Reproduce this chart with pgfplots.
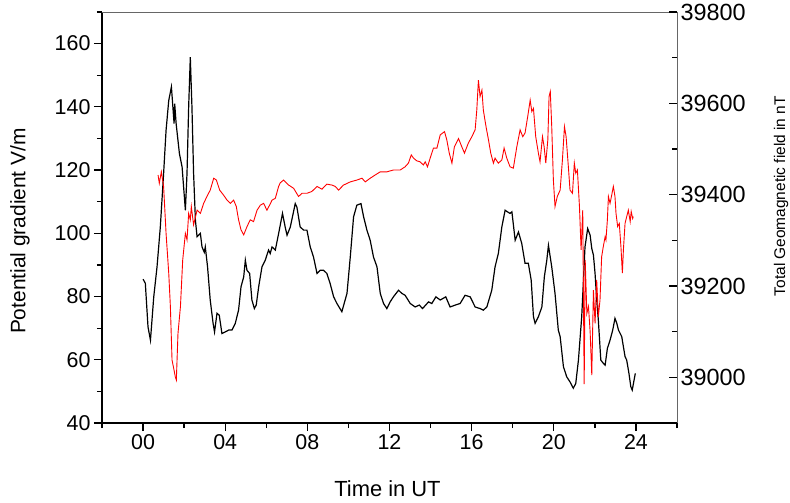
\documentclass[border=0pt]{standalone}
\usepackage{fontspec}
\setmainfont{Liberation Sans}
\usepackage{pgfplots}
\usepackage{pgfplotstable}
\pgfplotsset{compat=1.18}

% potential gradient (left axis), time in hours UT
\pgfplotstableread{
t v
0.00 85.5
0.11 84.2
0.24 70.4
0.36 66.2
0.52 79.9
0.68 89.4
0.84 102.0
1.00 118.9
1.12 132.6
1.25 142.0
1.38 146.3
1.44 141.0
1.51 134.7
1.54 141.0
1.61 134.7
1.77 125.2
1.90 121.0
2.06 107.3
2.14 119.0
2.22 140.0
2.30 155.7
2.38 140.0
2.46 119.0
2.55 104.0
2.63 98.9
2.79 100.0
2.87 95.7
2.98 94.0
3.03 95.7
3.14 89.4
3.27 78.9
3.41 71.5
3.48 68.8
3.60 74.7
3.71 74.1
3.84 68.3
4.00 68.8
4.17 69.4
4.33 69.4
4.49 71.5
4.65 75.7
4.77 83.1
4.90 86.2
4.98 91.5
5.06 88.3
5.19 87.3
5.30 78.9
5.42 76.2
5.51 77.3
5.63 83.1
5.79 89.4
5.95 91.5
6.11 94.7
6.19 93.6
6.28 95.7
6.44 94.7
6.60 99.9
6.79 106.3
6.92 102.0
7.01 99.4
7.17 102.0
7.41 109.4
7.49 108.3
7.65 102.0
7.82 101.0
7.98 101.0
8.14 95.7
8.30 92.5
8.47 87.3
8.63 88.3
8.79 88.3
8.95 87.3
9.11 84.1
9.28 79.9
9.44 77.8
9.68 75.2
9.93 81.0
10.09 92.5
10.25 105.2
10.41 108.9
10.61 109.4
10.74 105.2
10.90 101.0
11.06 97.8
11.22 92.5
11.39 89.4
11.55 81.0
11.71 77.8
11.87 76.2
12.03 78.3
12.19 79.9
12.44 82.0
12.60 81.0
12.76 80.4
13.01 77.8
13.25 76.7
13.45 77.3
13.61 76.2
13.90 78.3
14.06 77.8
14.26 79.9
14.47 78.9
14.74 79.9
14.95 76.7
15.20 77.3
15.44 77.8
15.68 80.4
15.93 79.9
16.17 76.7
16.41 76.2
16.57 75.7
16.74 76.7
16.98 82.0
17.14 89.4
17.30 93.6
17.47 102.0
17.63 107.3
17.74 106.8
17.87 106.3
17.96 106.8
18.12 97.8
18.28 100.4
18.44 96.8
18.60 90.5
18.76 90.5
18.90 85.2
19.01 73.6
19.09 71.5
19.25 73.6
19.42 76.7
19.54 86.2
19.66 91.5
19.74 96.2
19.90 89.4
20.06 81.0
20.22 69.4
20.31 67.3
20.47 57.8
20.63 54.6
20.79 53.0
20.95 51.0
21.07 52.5
21.20 59.9
21.36 73.6
21.52 95.7
21.65 101.5
21.77 99.4
21.85 95.2
21.93 93.1
22.01 87.3
22.09 78.9
22.17 72.5
22.29 59.9
22.41 58.9
22.50 58.3
22.61 63.6
22.74 66.2
22.87 69.4
22.98 73.1
23.07 71.5
23.15 69.4
23.31 67.3
23.47 61.0
23.55 59.9
23.66 55.7
23.75 51.5
23.82 50.4
23.91 53.6
23.97 55.7
}\pgdata

% total geomagnetic field (right axis)
\pgfplotstableread{
t b
0.73 39443
0.79 39425
0.89 39450
1.00 39418
1.12 39315
1.25 39228
1.33 39155
1.41 39038
1.49 39020
1.57 39001
1.62 38994
1.70 39096
1.82 39155
1.93 39257
2.06 39315
2.14 39301
2.22 39359
2.30 39345
2.35 39374
2.46 39334
2.63 39366
2.79 39359
2.95 39381
3.11 39396
3.27 39410
3.44 39436
3.57 39432
3.73 39410
3.92 39399
4.09 39388
4.25 39381
4.41 39388
4.54 39374
4.65 39345
4.77 39323
4.90 39312
5.06 39330
5.22 39345
5.38 39341
5.55 39366
5.71 39377
5.87 39381
6.03 39366
6.16 39377
6.28 39388
6.44 39392
6.60 39418
6.68 39426
6.84 39432
7.09 39421
7.33 39414
7.57 39396
7.74 39403
7.98 39403
8.22 39407
8.47 39418
8.71 39412
8.95 39423
9.20 39421
9.36 39418
9.52 39410
9.76 39421
10.09 39428
10.41 39432
10.66 39436
10.82 39428
11.06 39436
11.30 39443
11.55 39450
11.87 39450
12.19 39454
12.52 39454
12.76 39461
12.92 39469
13.06 39487
13.17 39480
13.33 39474
13.49 39472
13.65 39465
13.74 39472
13.85 39461
13.98 39480
14.14 39502
14.31 39502
14.47 39531
14.68 39538
14.79 39520
14.91 39491
15.04 39469
15.16 39505
15.36 39523
15.52 39505
15.65 39491
15.84 39513
16.01 39527
16.17 39542
16.25 39585
16.33 39651
16.41 39615
16.50 39629
16.57 39585
16.70 39549
16.82 39520
16.93 39491
17.06 39469
17.14 39480
17.30 39469
17.47 39476
17.58 39502
17.71 39480
17.87 39461
18.03 39458
18.20 39505
18.36 39542
18.49 39527
18.60 39535
18.73 39571
18.85 39607
18.93 39582
19.01 39589
19.12 39527
19.25 39491
19.33 39472
19.45 39527
19.53 39505
19.61 39469
19.71 39520
19.77 39615
19.83 39626
19.90 39549
19.98 39432
20.06 39374
20.17 39396
20.31 39410
20.42 39476
20.52 39549
20.60 39527
20.71 39461
20.79 39410
20.91 39403
21.00 39469
21.07 39447
21.15 39454
21.25 39374
21.33 39279
21.41 39366
21.48 38985
21.53 39257
21.61 39140
21.69 39155
21.77 39100
21.85 39005
21.93 39191
22.01 39118
22.09 39213
22.17 39133
22.25 39169
22.33 39264
22.41 39286
22.50 39308
22.54 39301
22.61 39345
22.66 39396
22.74 39381
22.82 39399
22.90 39418
22.98 39396
23.03 39359
23.11 39330
23.19 39337
23.27 39286
23.34 39228
23.39 39279
23.47 39337
23.55 39352
23.63 39366
23.72 39341
23.77 39363
23.84 39348
23.87 39352
}\geodata

\begin{document}
\begin{tikzpicture}
\path[use as bounding box] (-102bp,-80bp) rectangle (688bp,423bp);
\begin{axis}[
  scale only axis,
  width=575bp, height=411bp,
  xmin=-2, xmax=26,
  ymin=40, ymax=170,
  axis x line*=bottom,
  axis y line*=left,
  axis line style={black, line width=1.3bp},
  xtick={0,4,...,24},
  xticklabels={00,04,08,12,16,20,24},
  minor xtick={-2,2,...,26},
  ytick={40,60,...,160},
  minor ytick={50,70,...,170},
  tick align=outside,
  major tick length=8bp,
  minor tick length=5bp,
  every tick/.style={black, line width=1.3bp},
  /pgf/number format/assume math mode=true,
  tick label style={font=\fontsize{21.5}{24}\selectfont},
  xlabel={Time in UT},
  ylabel={Potential gradient V/m},
  xlabel style={at={(axis description cs:0.4965,-0.1606)}, anchor=center,
    font=\fontsize{22}{24}\selectfont},
  ylabel style={at={(axis description cs:-0.1426,0.467)}, anchor=center,
    font=\fontsize{21}{24}\selectfont},
  extra description/.code={
    \draw[black!60, line width=0.8bp] (axis description cs:0,1) -- (axis description cs:1,1);
  },
]
\addplot[black, line width=1.2bp] table[x=t, y=v] {\pgdata};
\end{axis}
\begin{axis}[
  scale only axis,
  width=575bp, height=411bp,
  xmin=-2, xmax=26,
  ymin=38900, ymax=39800,
  axis x line=none,
  axis y line*=right,
  axis line style={black!60, line width=0.8bp},
  ytick={39000,39200,...,39800},
  minor ytick={39100,39300,39500,39700},
  tick align=inside,
  major tick length=8bp,
  minor tick length=5bp,
  every tick/.style={black, line width=1.3bp},
  scaled y ticks=false,
  /pgf/number format/assume math mode=true,
  yticklabel style={/pgf/number format/1000 sep={}, font=\fontsize{23.5}{26}\selectfont},
  ylabel={Total Geomagnetic field in nT},
  ylabel style={at={(axis description cs:1.181,0.552)}, anchor=center,
    font=\fontsize{15.5}{18}\selectfont},
]
\addplot[red, line width=0.9bp] table[x=t, y=b] {\geodata};
\end{axis}
\end{tikzpicture}
\end{document}
